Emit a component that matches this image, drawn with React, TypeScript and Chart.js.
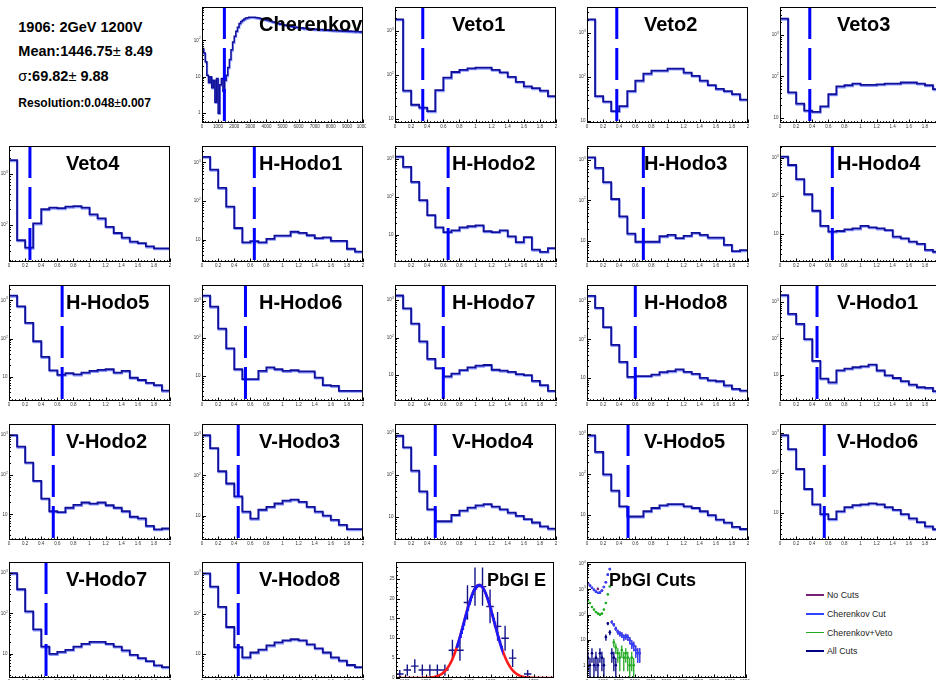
import { useEffect, useRef } from "react";
import { Chart, registerables } from "chart.js";

Chart.register(...registerables);

// ---------------- run summary ----------------
const runLabel = "1906: 2GeV 1200V";
const fitMeanText = "1446.75";
const fitMeanErrText = "8.49";
const fitSigmaText = "69.82";
const fitSigmaErrText = "9.88";
const resolutionText = "0.048";
const resolutionErrText = "0.007";

// Gaussian fit of the PbGl energy peak
const fitMean = 1446.75;
const fitSigma = 69.82;
const fitAmplitude = 23.4;
const fitRangeSigmas = 1.5;

// ---------------- ratio histograms: 20 bins on [0, 2] ----------------
const ratioEdges = [0, 0.1, 0.2, 0.3, 0.4, 0.5, 0.6, 0.7, 0.8, 0.9, 1.0, 1.1, 1.2, 1.3, 1.4, 1.5, 1.6, 1.7, 1.8, 1.9, 2.0];
const ratioTicks = [0, 0.2, 0.4, 0.6, 0.8, 1, 1.2, 1.4, 1.6, 1.8, 2];
const ratioTickLabels = ["0", "0.2", "0.4", "0.6", "0.8", "1", "1.2", "1.4", "1.6", "1.8", "2"];

const veto1Counts = [1860, 44, 21, 18, 15, 45, 87, 117, 131, 142, 147, 147, 131, 115, 91, 70, 55, 50, 44, 33];
const veto2Counts = [2040, 37, 28, 17, 22, 48, 83, 120, 141, 141, 156, 156, 126, 107, 83, 66, 54, 48, 41, 31];
const veto3Counts = [2450, 41, 22, 15, 14, 19, 37, 57, 61, 67, 62, 62, 64, 67, 67, 71, 71, 67, 61, 49];
const veto4Counts = [1850, 49, 35, 105, 200, 215, 210, 225, 230, 215, 158, 132, 90, 68, 55, 46, 43, 37, 34, 34];
const hHodo1Counts = [1400, 650, 218, 72, 20, 8.5, 9.1, 8.5, 10.5, 12.7, 12.7, 16, 15, 13, 11, 11.5, 9.3, 9.3, 5.8, 4.9];
const hHodo2Counts = [1180, 630, 250, 82, 33, 15.6, 11.7, 13, 15.6, 16.7, 17.7, 12.3, 11.7, 13, 9, 6.3, 8.6, 4, 3.5, 4.4];
const hHodo3Counts = [1150, 630, 280, 108, 40, 15, 9.5, 9.5, 9.5, 13, 14, 11.7, 13.3, 15.8, 14, 12, 12, 8, 5.6, 5.9];
const hHodo4Counts = [1100, 660, 280, 112, 41, 16.4, 11.6, 12, 13.3, 14, 16.4, 15, 14, 12.7, 8.5, 7.7, 6.3, 5.5, 3.8, 3.4];
const hHodo5Counts = [1330, 700, 258, 85, 33, 14.7, 11.2, 12.4, 11.5, 12.8, 14.2, 15.1, 15.7, 12.8, 14.2, 9.4, 8.2, 6.9, 6.0, 4.3];
const hHodo6Counts = [1360, 690, 179, 54, 15, 8.2, 8.2, 13.5, 16.7, 15, 13.5, 14.1, 13.1, 13.1, 9, 5.7, 5.4, 4, 4, 4];
const hHodo7Counts = [1320, 600, 236, 79, 27, 15.4, 9.2, 11, 13.6, 16, 17.8, 18.6, 13.9, 13.1, 12.2, 10.6, 10, 7, 5.4, 3.8];
const hHodo8Counts = [1350, 660, 209, 72, 26, 10.6, 11.2, 11.2, 12.2, 14.1, 15, 16.6, 14.4, 12.8, 10, 8.7, 8.2, 6.4, 5.2, 4.7];
const vHodo1Counts = [1550, 470, 250, 95, 24, 7.8, 6.1, 13.2, 14.7, 16, 17, 19, 13, 9.6, 8.1, 6.6, 5.3, 4.5, 4.3, 3.5];
const vHodo2Counts = [1000, 510, 203, 70, 25, 12, 11.4, 14.7, 17.3, 19.9, 18.7, 19.9, 17, 14.7, 12, 8.7, 7.9, 5.1, 4.2, 4.4];
const vHodo3Counts = [1000, 480, 127, 63, 30, 12.5, 8.4, 14, 16.5, 20, 23.5, 25, 22, 16.5, 12.5, 10, 7.8, 5.9, 4.6, 4.6];
const vHodo4Counts = [850, 450, 125, 40, 15, 7.8, 7.8, 11, 14, 16.5, 18.6, 20, 17.5, 15, 12.5, 10.5, 8.8, 7.3, 5.9, 5.2];
const vHodo5Counts = [900, 355, 100, 40, 16.5, 9.3, 9.3, 12.5, 15, 17.5, 18.6, 18.6, 16.5, 15, 12.5, 10, 7.8, 6.6, 5.2, 4.6];
const vHodo6Counts = [900, 400, 127, 40, 16.5, 9.3, 7, 11, 14, 15.7, 16.5, 17.5, 16.5, 14, 12, 9.3, 7.3, 5.9, 4.6, 3.9];
const vHodo7Counts = [1000, 400, 112, 40, 15, 9.8, 11, 12.4, 15, 17.5, 19.5, 19.5, 17.5, 15, 12, 9.3, 7.7, 6.5, 5.1, 4.6];
const vHodo8Counts = [1000, 470, 148, 47, 15, 8.3, 11, 13, 16.5, 19.5, 22, 23.4, 22, 17.5, 14, 11, 8.3, 6.9, 5.4, 4.8];

// cut applied in each detector (same x units as the histogram)
const veto1Cut = 0.345;
const veto2Cut = 0.37;
const veto3Cut = 0.37;
const veto4Cut = 0.26;
const hHodoCuts = [0.65, 0.66, 0.7, 0.65, 0.66, 0.54, 0.6, 0.6];
const vHodoCuts = [0.46, 0.55, 0.45, 0.5, 0.51, 0.55, 0.46, 0.45];

// ---------------- Cherenkov ADC: 100 bins on [0, 10000] ----------------
const cherenkovBinWidth = 100;
const cherenkovCut = 1390;
const cherenkovCounts = [
  60, 45, 26, 11, 7, 10, 5, 8, 2, 9, 1, 6, 9, 4, 8, 11, 18, 30, 55, 90,
  130, 180, 230, 290, 330, 360, 390, 410, 420, 430, 435, 435, 432, 425, 418, 410, 400, 390, 380, 372,
  365, 350, 345, 330, 320, 315, 300, 295, 280, 285, 270, 262, 265, 250, 245, 250, 238, 230, 235, 225,
  228, 218, 222, 212, 218, 208, 212, 205, 210, 200, 205, 198, 202, 195, 200, 192, 198, 190, 195, 188,
  193, 185, 190, 184, 188, 182, 186, 180, 184, 178, 183, 176, 181, 175, 180, 172, 178, 174, 170, 176,
];
const adcTicks = [0, 1000, 2000, 3000, 4000, 5000, 6000, 7000, 8000, 9000, 10000];
const adcTickLabels = ["0", "1000", "2000", "3000", "4000", "5000", "6000", "7000", "8000", "9000", "10000"];

// ---------------- PbGl energy: 21 bins of 35 starting at 1060 ----------------
const pbglELow = 1060;
const pbglEBinWidth = 35;
const pbglECounts = [1, 2, 3, 2, 2, 2, 2, 7, 7, 19, 23, 23, 18, 13, 10, 5, 0, 1, 0, 0, 0];
const pbglETicks = [1100, 1200, 1300, 1400, 1500, 1600, 1700];
const pbglETickLabels = ["1100", "1200", "1300", "1400", "1500", "1600", "1700"];
const pbglEYTicks = [0, 5, 10, 15, 20, 25];
const pbglEYTickLabels = ["0", "5", "10", "15", "20", "25"];

// ---------------- PbGl ADC under successive cuts: bins of 125 from 0 ----------------
const pbglCutsBinWidth = 125;
const noCutsCounts = [1740, 1410, 1150, 955, 810, 1040, 740, 890, 1230, 1900, 3800, 6300, 51, 40, 28, 21, 18, 16, 13, 14, 13, 10, 7, 6, 4, 3, 3];
const cherenkovCutCounts = [1740, 1410, 1150, 955, 810, 725, 740, 890, 1230, 1900, 3800, 6300, 51, 40, 28, 21, 18, 16, 13, 14, 13, 10, 7, 6, 4, 3, 3];
const cherenkovVetoCounts = [363, 290, 200, 158, 128, 110, 100, 110, 158, 290, 630, 1300, 0, 8, 5, 3, 2, 4, 2, 3, 2, 1, 2, 1, 0, 0, 0];
const allCutsCounts = [2, 1, 3, 1, 2, 1, 3, 2, 1, 13, 45, 20, 3, 2, 1, 0, 0, 0, 0, 0, 0, 0, 0, 0, 0, 0, 0];

const legendLabels = ["No Cuts", "Cherenkov Cut", "Cherenkov+Veto", "All Cuts"];
const legendColors = ["#7a1f78", "#3344ff", "#22aa22", "#000080"];

// ---------------- styling & pad geometry ----------------
const HIST_COLOR = "#10109a";
const HIST_SHADOW = "rgba(120,135,255,0.85)";
const CUT_COLOR = "#0000ff";
const FONT = '"Liberation Sans", Arial, Helvetica, sans-serif';
const FRAME_LEFT = [9, 202, 395, 587, 780];
const FRAME_TOP = [7, 146, 285, 424, 562];
const FRAME_W = 161;
const FRAME_H = 116;
const PAD = { left: 9, top: 7, right: 3, bottom: 12 };

// ---------------- helpers ----------------
function logRange(values: number[]): [number, number] {
  const pos = values.filter((v) => v > 0);
  const lo = Math.log10(Math.min(...pos)) - 0.27;
  const hi = Math.log10(Math.max(...pos)) + 0.28;
  return [Math.pow(10, lo), Math.pow(10, hi)];
}

// one point per lower bin edge plus the closing edge; drawn with a "before" step
function stepPoints(edges: number[], counts: number[]) {
  const pts = counts.map((c, i) => ({ x: edges[i], y: c }));
  pts.push({ x: edges[counts.length], y: counts[counts.length - 1] });
  return pts;
}

function makeEdges(low: number, width: number, n: number) {
  return Array.from({ length: n + 1 }, (_, i) => low + i * width);
}

function errorBarPoints(low: number, width: number, counts: number[], floor: number) {
  const pts: any[] = [];
  counts.forEach((n, i) => {
    if (n <= 0) return;
    const c = low + (i + 0.5) * width;
    const e = Math.sqrt(n);
    pts.push({ x: c - width / 2, y: n }, { x: c + width / 2, y: n }, { x: c, y: null });
    pts.push({ x: c, y: Math.max(n - e, floor) }, { x: c, y: n + e }, { x: c, y: null });
  });
  return pts;
}

function markerPoints(low: number, width: number, counts: number[]) {
  return counts
    .map((n, i) => ({ x: low + (i + 0.5) * width, y: n }))
    .filter((p) => p.y > 0);
}

function minorTicks(min: number, max: number, step: number) {
  const out: number[] = [];
  for (let v = min; v <= max + 1e-9; v += step) out.push(Math.round(v * 1e6) / 1e6);
  return out;
}

// soft light-blue under-stroke of the histogram outline
const histShadow = {
  id: "histShadow",
  beforeDatasetDraw(chart: any, args: any) {
    const ds = chart.data.datasets[args.index];
    if (!ds.shadow) return;
    const { ctx } = chart;
    ctx.save();
    ctx.shadowColor = ds.shadow;
    ctx.shadowOffsetX = 0.6;
    ctx.shadowOffsetY = 1.1;
    ctx.shadowBlur = 0;
  },
  afterDatasetDraw(chart: any, args: any) {
    const ds = chart.data.datasets[args.index];
    if (!ds.shadow) return;
    chart.ctx.restore();
  },
};

// ROOT-style frame: box, inward ticks, small labels and the pad title
const rootFrame = {
  id: "rootFrame",
  afterDatasetsDraw(chart: any, _args: any, opts: any) {
    const { ctx, chartArea: a } = chart;
    const xs = chart.scales.x;
    const ys = chart.scales.y;
    const L = a.left;
    const R = a.right;
    const T = a.top;
    const B = a.bottom;
    ctx.save();
    ctx.strokeStyle = "#000";
    ctx.lineWidth = 1;
    ctx.strokeRect(L + 0.5, T + 0.5, R - L - 1, B - T - 1);

    ctx.beginPath();
    for (const v of opts.xMinor) {
      const px = Math.round(xs.getPixelForValue(v)) + 0.5;
      ctx.moveTo(px, B);
      ctx.lineTo(px, B - 1.8);
    }
    for (const v of opts.xMajor) {
      const px = Math.round(xs.getPixelForValue(v)) + 0.5;
      ctx.moveTo(px, B);
      ctx.lineTo(px, B - 3.5);
    }
    const yLabels: { v: number; text: string; exp?: string }[] = [];
    if (opts.yLog) {
      const lo = Math.log10(ys.min);
      const hi = Math.log10(ys.max);
      for (let d = Math.floor(lo); d <= Math.ceil(hi); d++) {
        for (let m = 1; m < 10; m++) {
          const v = m * Math.pow(10, d);
          if (v < ys.min || v > ys.max) continue;
          const py = Math.round(ys.getPixelForValue(v)) + 0.5;
          ctx.moveTo(L, py);
          ctx.lineTo(L + (m === 1 ? 4 : 2), py);
          if (m === 1) {
            if (d === 0) yLabels.push({ v, text: "1" });
            else if (d === 1) yLabels.push({ v, text: "10" });
            else yLabels.push({ v, text: "10", exp: String(d) });
          }
        }
      }
    } else {
      for (const v of opts.yMinor) {
        const py = Math.round(ys.getPixelForValue(v)) + 0.5;
        ctx.moveTo(L, py);
        ctx.lineTo(L + 2, py);
      }
      opts.yMajor.forEach((v: number, i: number) => {
        const py = Math.round(ys.getPixelForValue(v)) + 0.5;
        ctx.moveTo(L, py);
        ctx.lineTo(L + 4, py);
        yLabels.push({ v, text: opts.yLabels[i] });
      });
    }
    ctx.stroke();

    ctx.fillStyle = "#333";
    ctx.font = `4.5px ${FONT}`;
    ctx.textAlign = "center";
    ctx.textBaseline = "top";
    opts.xMajor.forEach((v: number, i: number) => {
      ctx.fillText(opts.xLabels[i], xs.getPixelForValue(v), B + 2);
    });
    ctx.textBaseline = "middle";
    for (const lab of yLabels) {
      const py = ys.getPixelForValue(lab.v);
      if (lab.exp) {
        ctx.font = `3.2px ${FONT}`;
        ctx.textAlign = "right";
        ctx.fillText(lab.exp, L - 1.2, py - 1.8);
        const ew = ctx.measureText(lab.exp).width;
        ctx.font = `4.5px ${FONT}`;
        ctx.fillText(lab.text, L - 1.4 - ew, py);
      } else {
        ctx.font = `4.5px ${FONT}`;
        ctx.textAlign = "right";
        ctx.fillText(lab.text, L - 1.5, py);
      }
    }

    ctx.fillStyle = "#000";
    ctx.font = `bold ${opts.titleSize}px ${FONT}`;
    ctx.textAlign = "left";
    ctx.textBaseline = "alphabetic";
    ctx.fillText(opts.title, L + opts.titleDx, T + 24);
    ctx.restore();
  },
};

function baseOptions(scales: any, frame: any) {
  return {
    animation: false,
    responsive: false,
    events: [],
    layout: { padding: PAD },
    scales: {
      x: { type: "linear", display: false, bounds: "data", ...scales.x },
      y: { display: false, bounds: "data", ...scales.y },
    },
    plugins: {
      legend: { display: false },
      tooltip: { enabled: false },
      rootFrame: { titleDx: 57, titleSize: 20, ...frame },
    },
  };
}

// dataset "order": lower values are painted later (on top)
function histDataset(points: any[], width: number) {
  return {
    data: points,
    stepped: "before",
    borderColor: HIST_COLOR,
    borderWidth: width,
    pointRadius: 0,
    fill: false,
    shadow: HIST_SHADOW,
    order: 2,
  };
}

function cutDataset(cut: number, ymin: number, ymax: number) {
  return {
    data: [
      { x: cut, y: ymax },
      { x: cut, y: ymin },
    ],
    borderColor: CUT_COLOR,
    borderWidth: 3,
    borderDash: [32, 9],
    pointRadius: 0,
    order: 1,
  };
}

function ratioPanel(title: string, counts: number[], cut: number) {
  const [ymin, ymax] = logRange(counts);
  return {
    type: "line",
    data: { datasets: [histDataset(stepPoints(ratioEdges, counts), 1.8), cutDataset(cut, ymin, ymax)] },
    options: baseOptions(
      { x: { min: 0, max: 2 }, y: { type: "logarithmic", min: ymin, max: ymax } },
      { title, yLog: true, xMajor: ratioTicks, xMinor: minorTicks(0, 2, 0.04), xLabels: ratioTickLabels },
    ),
    plugins: [histShadow, rootFrame],
  };
}

function cherenkovPanel() {
  const [ymin, ymax] = logRange(cherenkovCounts);
  const edges = makeEdges(0, cherenkovBinWidth, cherenkovCounts.length);
  return {
    type: "line",
    data: { datasets: [histDataset(stepPoints(edges, cherenkovCounts), 1.5), cutDataset(cherenkovCut, ymin, ymax)] },
    options: baseOptions(
      { x: { min: 0, max: 10000 }, y: { type: "logarithmic", min: ymin, max: ymax } },
      { title: "Cherenkov", yLog: true, xMajor: adcTicks, xMinor: minorTicks(0, 10000, 200), xLabels: adcTickLabels },
    ),
    plugins: [histShadow, rootFrame],
  };
}

function pbglEPanel() {
  const n = pbglECounts.length;
  const xmax = pbglELow + n * pbglEBinWidth;
  const ymax = 1.05 * Math.max(...pbglECounts.map((c) => c + Math.sqrt(c)));
  const gauss = (x: number) => fitAmplitude * Math.exp(-0.5 * Math.pow((x - fitMean) / fitSigma, 2));
  const curve = (a: number, b: number, steps: number) =>
    Array.from({ length: steps + 1 }, (_, i) => {
      const x = a + ((b - a) * i) / steps;
      return { x, y: gauss(x) };
    });
  const fitLo = fitMean - fitRangeSigmas * fitSigma;
  const fitHi = fitMean + fitRangeSigmas * fitSigma;
  return {
    type: "line",
    data: {
      datasets: [
        { data: errorBarPoints(pbglELow, pbglEBinWidth, pbglECounts, 0), borderColor: "#14148a", borderWidth: 1.4, pointRadius: 0, spanGaps: false, order: 3 },
        { data: curve(pbglELow, xmax, 160), borderColor: "#ff1a1a", borderWidth: 2.6, pointRadius: 0, tension: 0, order: 2 },
        { data: curve(fitLo, fitHi, 80), borderColor: "#1a1aff", borderWidth: 2.6, pointRadius: 0, tension: 0, order: 1 },
      ],
    },
    options: baseOptions(
      { x: { min: pbglELow, max: xmax }, y: { type: "linear", min: 0, max: ymax } },
      {
        title: "PbGl E",
        titleDx: 91,
        titleSize: 18,
        yLog: false,
        yMajor: pbglEYTicks,
        yMinor: minorTicks(0, 28, 1),
        yLabels: pbglEYTickLabels,
        xMajor: pbglETicks,
        xMinor: minorTicks(1080, 1780, 20),
        xLabels: pbglETickLabels,
      },
    ),
    plugins: [rootFrame],
  };
}

function pbglCutsPanel() {
  const all = [...noCutsCounts, ...cherenkovCutCounts, ...cherenkovVetoCounts, ...allCutsCounts];
  const lows = all.filter((v) => v > 0).map((v) => v - Math.sqrt(v)).filter((v) => v > 0);
  const ymin = Math.pow(10, Math.log10(Math.min(...lows)) - 0.27);
  const ymax = Math.pow(10, Math.log10(Math.max(...all)) + 0.28);
  const series = [noCutsCounts, cherenkovCutCounts, cherenkovVetoCounts, allCutsCounts];
  const datasets: any[] = [];
  series.forEach((counts, k) => {
    // later series in the list are painted on top of earlier ones
    const order = (series.length - k) * 2;
    datasets.push({ data: errorBarPoints(0, pbglCutsBinWidth, counts, ymin), borderColor: legendColors[k], borderWidth: 1.3, pointRadius: 0, spanGaps: false, order });
    datasets.push({ data: markerPoints(0, pbglCutsBinWidth, counts), showLine: false, pointRadius: 1.3, pointBorderWidth: 0, pointBackgroundColor: legendColors[k], order: order - 1 });
  });
  return {
    type: "line",
    data: { datasets },
    options: baseOptions(
      { x: { min: 0, max: 10000 }, y: { type: "logarithmic", min: ymin, max: ymax } },
      { title: "PbGl Cuts", titleDx: 22, titleSize: 18, yLog: true, xMajor: adcTicks, xMinor: minorTicks(0, 10000, 200), xLabels: adcTickLabels },
    ),
    plugins: [rootFrame],
  };
}

type Panel = { id: string; col: number; row: number; width?: number; build: () => any };

const hHodoCounts = [hHodo1Counts, hHodo2Counts, hHodo3Counts, hHodo4Counts, hHodo5Counts, hHodo6Counts, hHodo7Counts, hHodo8Counts];
const vHodoCounts = [vHodo1Counts, vHodo2Counts, vHodo3Counts, vHodo4Counts, vHodo5Counts, vHodo6Counts, vHodo7Counts, vHodo8Counts];

const panels: Panel[] = [
  { id: "cherenkov", col: 1, row: 0, build: cherenkovPanel },
  { id: "veto1", col: 2, row: 0, build: () => ratioPanel("Veto1", veto1Counts, veto1Cut) },
  { id: "veto2", col: 3, row: 0, build: () => ratioPanel("Veto2", veto2Counts, veto2Cut) },
  { id: "veto3", col: 4, row: 0, build: () => ratioPanel("Veto3", veto3Counts, veto3Cut) },
  { id: "veto4", col: 0, row: 1, build: () => ratioPanel("Veto4", veto4Counts, veto4Cut) },
  ...hHodoCounts.map((counts, i) => {
    const slot = 6 + i;
    return { id: `hhodo${i + 1}`, col: slot % 5, row: Math.floor(slot / 5), build: () => ratioPanel(`H-Hodo${i + 1}`, counts, hHodoCuts[i]) };
  }),
  ...vHodoCounts.map((counts, i) => {
    const slot = 14 + i;
    return { id: `vhodo${i + 1}`, col: slot % 5, row: Math.floor(slot / 5), build: () => ratioPanel(`V-Hodo${i + 1}`, counts, vHodoCuts[i]) };
  }),
  { id: "pbgle", col: 2, row: 4, width: 158, build: pbglEPanel },
  { id: "pbglcuts", col: 3, row: 4, width: 160, build: pbglCutsPanel },
];

function padBox(p: Panel) {
  const fw = p.width ?? FRAME_W;
  return {
    x: FRAME_LEFT[p.col] - PAD.left + (p.id === "pbgle" ? 1 : 0),
    y: FRAME_TOP[p.row] - PAD.top,
    w: PAD.left + fw + PAD.right,
    h: PAD.top + FRAME_H + PAD.bottom,
  };
}

const textStyle = (size: number, baseline: number, left: number): any => ({
  position: "absolute",
  left,
  top: baseline - 0.8465 * size,
  fontFamily: FONT,
  fontSize: size,
  lineHeight: 1,
  whiteSpace: "nowrap",
  color: "#000",
  fontWeight: "bold",
});

function SummaryText() {
  const sym = { fontWeight: "normal" } as any;
  return (
    <>
      <div style={textStyle(14.5, 32.3, 18.3)}>{runLabel}</div>
      <div style={textStyle(14.5, 56.7, 18.3)}>
        Mean:{fitMeanText}
        <span style={sym}>±</span> {fitMeanErrText}
      </div>
      <div style={textStyle(14.5, 81.7, 18.3)}>
        <span style={sym}>σ</span>:{fitSigmaText}
        <span style={sym}>±</span> {fitSigmaErrText}
      </div>
      <div style={textStyle(12, 106.7, 18.3)}>
        Resolution:{resolutionText}
        <span style={sym}>±</span>
        {resolutionErrText}
      </div>
    </>
  );
}

function LegendBox() {
  const rows = [595, 614, 632.7, 651];
  return (
    <>
      {legendLabels.map((label, i) => (
        <div key={label}>
          <div style={{ position: "absolute", left: 806, top: rows[i] - 0.75, width: 18, height: 1.5, background: legendColors[i] }} />
          <div style={{ ...textStyle(8.8, rows[i] + 3.3, 827), fontWeight: "normal", color: "#222" }}>{label}</div>
        </div>
      ))}
    </>
  );
}

export default function App() {
  const refs = useRef<(HTMLCanvasElement | null)[]>([]);
  useEffect(() => {
    const charts = panels.map((p, i) => new Chart(refs.current[i] as HTMLCanvasElement, p.build()));
    return () => charts.forEach((c) => c.destroy());
  }, []);
  return (
    <div style={{ position: "fixed", left: 0, top: 0, width: 936, height: 680, overflow: "hidden", background: "#fff" }}>
      {panels.map((p, i) => {
        const b = padBox(p);
        return (
          <canvas
            key={p.id}
            ref={(el) => {
              refs.current[i] = el;
            }}
            width={b.w}
            height={b.h}
            style={{ position: "absolute", left: b.x, top: b.y, width: b.w, height: b.h }}
          />
        );
      })}
      <SummaryText />
      <LegendBox />
    </div>
  );
}
